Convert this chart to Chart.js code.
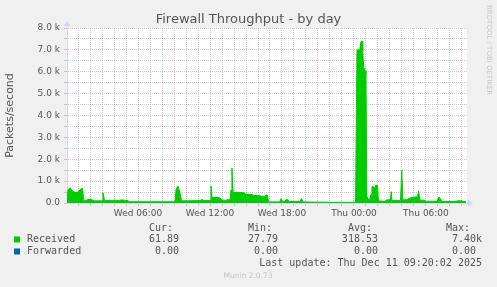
<!DOCTYPE html>
<html>
<head>
<meta charset="utf-8">
<script src="https://cdn.jsdelivr.net/npm/chart.js@4.4.1/dist/chart.umd.min.js"></script>
<style>
  html, body { margin: 0; padding: 0; background: #f0f0f0; }
  #wrap { width: 497px; height: 287px; }
</style>
</head>
<body>
<div id="wrap"><canvas id="fwChart" width="497" height="287"></canvas></div>
<script>
// hours since Wed 00:00
const hours = [0.08, 0.17, 0.33, 0.5, 0.75, 1.0, 1.25, 1.38, 1.46, 1.67, 1.83, 2.17, 2.33, 3.0, 3.08, 3.21,
  3.67, 4.0, 4.33, 4.67, 5.0, 5.17, 5.25, 9.08, 9.17, 9.33, 9.5, 9.63, 10.33, 11.17, 11.33, 11.5,
  12.0, 12.08, 12.17, 12.5, 12.83, 13.0, 13.33, 13.5, 13.67, 13.75, 13.83, 13.92, 14.33, 14.83, 15.0,
  15.5, 15.67, 16.17, 16.33, 16.42, 16.5, 16.67, 16.79, 16.88, 17.83, 17.92, 18.04, 18.25, 18.33, 18.5,
  18.58, 19.5, 19.63, 19.75, 20.92, 21.58, 22.0, 22.83, 23.67, 24.13, 24.25, 24.42, 24.5, 24.58, 24.67,
  24.73, 24.81, 24.92, 25.0, 25.07, 25.17, 25.29, 25.42, 25.5, 25.67, 25.75, 25.83, 25.96, 26.04, 26.58,
  26.67, 26.92, 27.04, 27.11, 27.17, 27.88, 27.98, 28.08, 28.42, 28.67, 29.0, 29.29, 29.39, 29.48, 29.83,
  30.0, 30.92, 31.08, 31.25, 31.33, 32.42, 32.67, 33.0, 33.08, 33.33];

// packets/second
const received = [300, 600, 700, 560, 480, 500, 640, 680, 130, 120, 160, 150, 100, 100, 470, 100,
  120, 130, 120, 140, 120, 110, 60, 55, 620, 780, 440, 100, 100, 110, 160, 110,
  110, 780, 240, 260, 230, 140, 120, 160, 140, 600, 1600, 480, 490, 470, 400,
  390, 340, 330, 290, 330, 290, 360, 360, 50, 50, 200, 80, 80, 150, 150,
  70, 70, 200, 50, 40, 40, 30, 35, 30, 40, 7000, 7000, 7080, 7380, 7400,
  6950, 6200, 6050, 5900, 300, 200, 130, 400, 750, 720, 680, 820, 800, 100, 70,
  130, 150, 150, 520, 110, 110, 1500, 140, 150, 230, 260, 290, 550, 140, 130,
  80, 80, 270, 160, 70, 70, 100, 100, 60, 62];

const forwardedHours = [0.08, 33.33];
const forwarded = [0, 0];

const xTickHours = [6, 12, 18, 24, 30];
const xTickLabels = ['Wed 06:00', 'Wed 12:00', 'Wed 18:00', 'Thu 00:00', 'Thu 06:00'];
const yTickLabels = ['0.0', '1.0 k', '2.0 k', '3.0 k', '4.0 k', '5.0 k', '6.0 k', '7.0 k', '8.0 k'];

// legend table
const seriesNames = ['Received', 'Forwarded'];
const seriesColors = ['#00cc00', '#0066b3'];
const statHeads = ['Cur:', 'Min:', 'Avg:', 'Max:'];
const curValues = ['61.89', '0.00'];
const minValues = ['27.79', '0.00'];
const avgValues = ['318.53', '0.00'];
const maxValues = ['7.40k', '0.00'];
const lastUpdate = 'Last update: Thu Dec 11 09:20:02 2025';

const fontColor = '#555555';
const axisColor = '#cfd6f8';
const majorGrid = 'rgba(225,128,128,0.5)';
const minorGrid = 'rgba(143,143,143,0.45)';

Chart.defaults.font.family = 'DejaVu Sans';
Chart.defaults.color = fontColor;

// background, arrows, legend and the little texts round the plot
const decor = {
  id: 'decor',
  afterLayout(chart) {
    // centre the title on the whole image, not only on the padded part
    const t = chart.titleBlock;
    if (t) { t.left = 0; t.right = chart.width; t.width = chart.width; }
  },
  beforeDraw(chart) {
    const ctx = chart.ctx, a = chart.chartArea;
    ctx.save();
    ctx.fillStyle = '#f0f0f0';
    ctx.fillRect(0, 0, chart.width, chart.height);
    ctx.fillStyle = '#ffffff';
    ctx.fillRect(a.left, a.top, a.right - a.left, a.bottom - a.top);
    ctx.restore();
  },
  afterDraw(chart) {
    const ctx = chart.ctx, a = chart.chartArea;
    ctx.save();
    // axis arrows
    ctx.fillStyle = axisColor;
    ctx.fillRect(a.left - 0.5, a.top - 2, 1, 2);
    ctx.beginPath();
    ctx.moveTo(a.left - 3.5, a.top - 2);
    ctx.lineTo(a.left + 3.5, a.top - 2);
    ctx.lineTo(a.left, a.top - 7);
    ctx.closePath();
    ctx.fill();
    ctx.fillRect(a.right, a.bottom - 0.5, 2, 1);
    ctx.beginPath();
    ctx.moveTo(a.right + 1, a.bottom - 3.5);
    ctx.lineTo(a.right + 1, a.bottom + 3.5);
    ctx.lineTo(a.right + 6, a.bottom);
    ctx.closePath();
    ctx.fill();

    // rrdtool tag on the right
    ctx.fillStyle = '#c8c8c8';
    ctx.font = '7px "DejaVu Sans"';
    ctx.textBaseline = 'middle';
    ctx.textAlign = 'left';
    ctx.translate(489, 5);
    ctx.rotate(Math.PI / 2);
    ctx.fillText('RRDTOOL / TOBI OETIKER', 0, 0);
    ctx.setTransform(1, 0, 0, 1, 0, 0);

    // legend table
    ctx.font = '10px "DejaVu Sans Mono"';
    ctx.fillStyle = fontColor;
    const colRight = [185, 284, 384, 482];
    const rowY = [239.5, 251.5];
    statHeads.forEach((h, i) => {
      ctx.textAlign = 'right';
      ctx.fillText(h, colRight[i] - 12, 228);
    });
    const cols = [curValues, minValues, avgValues, maxValues];
    seriesNames.forEach((name, r) => {
      ctx.fillStyle = seriesColors[r];
      ctx.fillRect(14, rowY[r] - 3, 6, 6);
      ctx.fillStyle = fontColor;
      ctx.textAlign = 'left';
      ctx.fillText(name, 27, rowY[r]);
      ctx.textAlign = 'right';
      cols.forEach((vals, c) => {
        const s = /[a-z]$/i.test(vals[r]) ? vals[r] : vals[r] + ' ';
        ctx.fillText(s, colRight[c], rowY[r]);
      });
    });
    ctx.textAlign = 'right';
    ctx.fillText(lastUpdate, 482, 263.5);

    ctx.font = '7.5px "DejaVu Sans"';
    ctx.fillStyle = '#c4c4c4';
    ctx.textAlign = 'center';
    ctx.fillText('Munin 2.0.73', 248, 276.5);
    ctx.restore();
  }
};

const gridHours = [];
for (let h = 1; h <= 33; h++) gridHours.push(h);

new Chart(document.getElementById('fwChart'), {
  type: 'line',
  data: {
    datasets: [{
      label: 'Received',
      data: hours.map((h, i) => ({ x: h, y: received[i] })),
      borderColor: '#00cc00',
      backgroundColor: '#00cc00',
      borderWidth: 1,
      fill: 'origin',
      tension: 0,
      pointRadius: 0
    }, {
      label: 'Forwarded',
      data: forwardedHours.map((h, i) => ({ x: h, y: forwarded[i] })),
      borderColor: '#0066b3',
      borderWidth: 0,
      fill: false,
      pointRadius: 0
    }]
  },
  options: {
    responsive: false,
    animation: false,
    devicePixelRatio: 1,
    layout: { padding: { left: 0, right: 30, top: 0, bottom: 0 } },
    plugins: {
      legend: { display: false },
      tooltip: { enabled: false },
      title: {
        display: true,
        text: 'Firewall Throughput - by day',
        color: fontColor,
        font: { size: 13, weight: 'normal', lineHeight: 1 },
        padding: { top: 13, bottom: 2 }
      }
    },
    scales: {
      x: {
        type: 'linear',
        min: 0.08,
        max: 33.42,
        afterBuildTicks: s => { s.ticks = gridHours.map(v => ({ value: v })); },
        afterFit: s => { s.height = 84; },
        ticks: {
          autoSkip: false,
          maxRotation: 0,
          padding: 2,
          font: { size: 9 },
          color: fontColor,
          callback: v => {
            const i = xTickHours.indexOf(v);
            return i >= 0 ? xTickLabels[i] : '';
          }
        },
        grid: {
          color: c => (c.tick && c.tick.value % 6 === 3 ? majorGrid : minorGrid),
          tickColor: c => (c.tick && c.tick.value % 6 === 3 ? majorGrid : minorGrid),
          tickLength: 3
        },
        border: { color: axisColor, dash: [1, 1] }
      },
      y: {
        min: 0,
        max: 8000,
        afterFit: s => { s.width = 67; },
        ticks: {
          stepSize: 500,
          autoSkip: false,
          padding: 4,
          font: { size: 9 },
          color: fontColor,
          callback: v => (v % 1000 === 0 ? yTickLabels[v / 1000] : '')
        },
        grid: {
          color: c => (c.tick && c.tick.value % 1000 === 0 ? majorGrid : minorGrid),
          tickColor: c => (c.tick && c.tick.value % 1000 === 0 ? majorGrid : minorGrid),
          tickLength: 3
        },
        border: { color: axisColor, dash: [1, 1] },
        title: {
          display: true,
          text: 'Packets/second',
          color: fontColor,
          font: { size: 11 },
          padding: { top: 4, bottom: 0 }
        }
      }
    }
  },
  plugins: [decor]
});
</script>
</body>
</html>
